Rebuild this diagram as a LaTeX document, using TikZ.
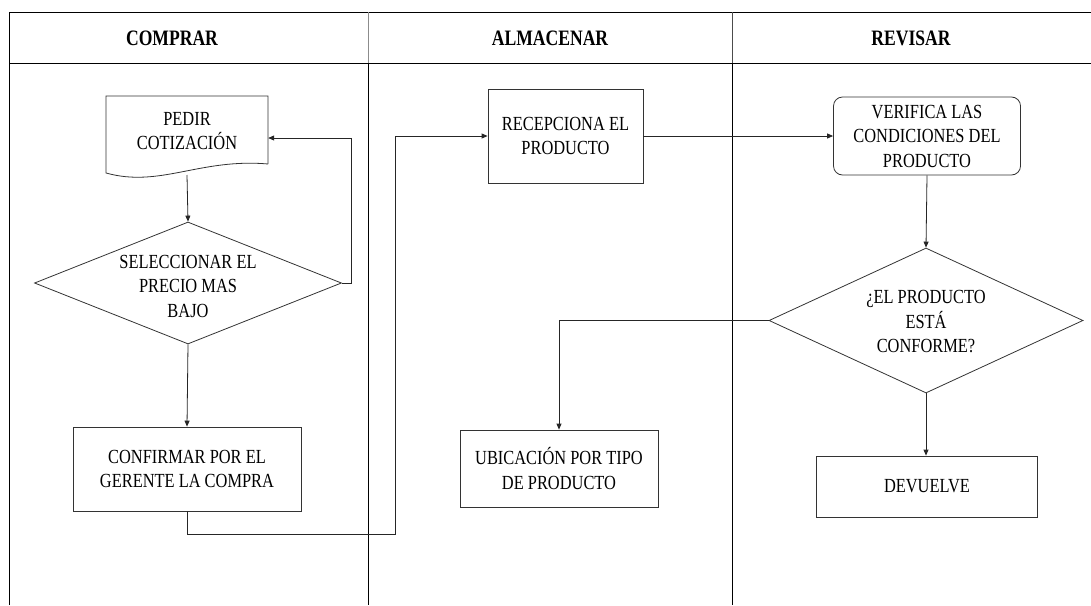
\documentclass[tikz,border=0pt]{standalone}
\usepackage{fontspec}
\setmainfont{Liberation Serif}
\newfontfamily\bodyfont[FakeStretch=0.82]{Liberation Serif}
\newfontfamily\headfont[FakeStretch=0.8]{Liberation Serif}
\usetikzlibrary{arrows.meta,shapes.geometric}
\tikzset{
  frameline/.style={line width=0.9pt,draw=black},
  boxnode/.style={draw=black!80,line width=0.8pt,rectangle,inner sep=0pt,align=center,
     font=\bodyfont\fontsize{20}{24.5}\selectfont},
  roundnode/.style={boxnode,rounded corners=9pt},
  decnode/.style={draw=black!80,line width=0.8pt,diamond,inner sep=0pt},
  txtnode/.style={align=center,inner sep=0pt,font=\bodyfont\fontsize{20}{24.5}\selectfont},
  headnode/.style={font=\headfont\bfseries\fontsize{22}{26}\selectfont,inner sep=0pt},
  arr/.style={draw=black!85,line width=0.8pt,-{Triangle[length=6pt,width=5pt]}},
  conn/.style={draw=black!85,line width=0.8pt}
}
\begin{document}
\begin{tikzpicture}[x=1pt,y=-1pt]
\useasboundingbox (0,0) rectangle (1091,605);
% frame
\draw[frameline] (9,605) -- (9,12) -- (1091,12);
\draw[frameline] (9,63) -- (1091,63);
\draw[line width=0.8pt,draw=black!45] (368,12) -- (368,63);
\draw[line width=0.8pt,draw=black!70] (732,12) -- (732,63);
\draw[frameline] (368,63) -- (368,605);
\draw[frameline] (732,63) -- (732,605);
% headers
\node[headnode] (h1) at (172,38) {COMPRAR};
\node[headnode] (h2) at (550,38) {ALMACENAR};
\node[headnode] (h3) at (911,38) {REVISAR};
% document shape
\node[txtnode,minimum width=162pt,minimum height=69pt] (doc) at (187,131) {PEDIR\\COTIZACIÓN};
\draw[draw=black!80,line width=0.8pt] (268,164) -- (268,96) -- (106,96) -- (106,173)
   .. controls (160,188) and (200,158) .. (268,164);
% decision 1
\node[decnode,minimum width=307pt,minimum height=122pt] (d1) at (188,283) {};
\node[txtnode] (d1t) at (188,286) {SELECCIONAR EL\\PRECIO MAS\\BAJO};
% confirm
\node[boxnode,minimum width=228pt,minimum height=84pt] (conf) at (187,469) {CONFIRMAR POR EL\\GERENTE LA COMPRA};
% recepciona
\node[boxnode,minimum width=155pt,minimum height=94pt] (rec) at (565.5,136) {RECEPCIONA EL\\PRODUCTO};
% ubicacion
\node[boxnode,minimum width=198pt,minimum height=77pt] (ubic) at (559,468.5) {UBICACIÓN POR TIPO\\DE PRODUCTO};
% verifica
\node[roundnode,minimum width=187pt,minimum height=78pt] (ver) at (927,136) {VERIFICA LAS\\CONDICIONES DEL\\PRODUCTO};
% decision 2
\node[decnode,minimum width=314pt,minimum height=145pt] (d2) at (926,320.5) {};
\node[txtnode] (d2t) at (926,322) {¿EL PRODUCTO\\ESTÁ\\CONFORME?};
% devuelve
\node[boxnode,minimum width=221pt,minimum height=61pt] (dev) at (927,486.5) {DEVUELVE};
% connectors
\coordinate (loop) at (351,138);
\coordinate (c1) at (395,534);
\draw[arr] (doc.south |- 0,175) -- (d1.north);
\draw[arr] (d1.east) -| (loop) -- (loop -| doc.east);
\draw[arr] (d1.south) -- (conf.north);
\draw[arr] (conf.south) |- (c1) |- (rec.west);
\draw[arr] (rec.east) -- (ver.west);
\draw[arr] (ver.south) -- (d2.north);
\draw[arr] (d2.west) -| (ubic.north);
\draw[arr] (d2.south) -- (dev.north -| d2.south);
\end{tikzpicture}
\end{document}
